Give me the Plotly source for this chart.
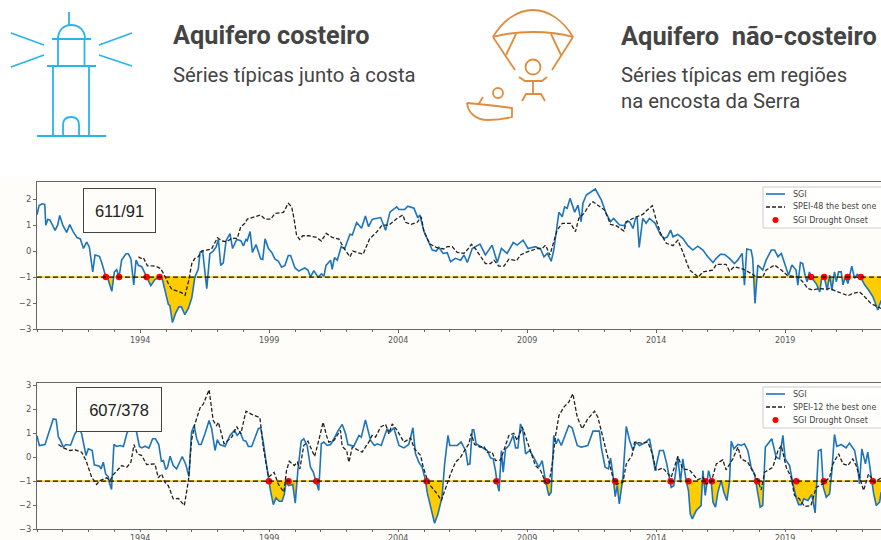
import numpy as np
import plotly.graph_objects as go

W, H = 881, 540
THRESHOLD = -1.0
YEAR_TICKS = [1994, 1999, 2004, 2009, 2014, 2019]

sgi_a_years = [1990,1990.08,1990.2,1990.3,1990.34,1990.42,1990.5,1990.62,1990.7,1990.8,1990.88,1991,1991.15,1991.27,1991.4,1991.55,1991.68,1991.8,1991.93,1992.03,1992.16,1992.25,1992.42,1992.51,1992.67,1992.74,1992.9,1993,1993.09,1993.18,1993.28,1993.45,1993.54,1993.64,1993.75,1993.84,1993.93,1994.06,1994.15,1994.25,1994.41,1994.57,1994.74,1994.85,1994.99,1995.09,1995.15,1995.25,1995.37,1995.5,1995.6,1995.73,1995.87,1996,1996.12,1996.19,1996.25,1996.32,1996.42,1996.58,1996.7,1996.83,1996.94,1997.03,1997.12,1997.22,1997.33,1997.48,1997.58,1997.74,1997.9,1998,1998.1,1998.15,1998.26,1998.35,1998.49,1998.67,1998.75,1998.84,1998.97,1999.1,1999.22,1999.35,1999.48,1999.61,1999.74,1999.83,2000,2000.15,2000.37,2000.5,2000.6,2000.73,2000.89,2001.03,2001.12,2001.2,2001.38,2001.44,2001.53,2001.64,2001.79,2001.92,2002.13,2002.22,2002.39,2002.58,2002.73,2002.85,2003,2003.32,2003.51,2003.68,2003.94,2004.03,2004.25,2004.37,2004.61,2004.76,2004.84,2005,2005.19,2005.32,2005.47,2005.58,2005.74,2005.9,2006.03,2006.22,2006.42,2006.55,2006.68,2006.87,2007.17,2007.38,2007.64,2007.84,2008,2008.22,2008.46,2008.61,2008.84,2009.03,2009.32,2009.52,2009.65,2009.78,2009.93,2010.03,2010.23,2010.36,2010.45,2010.55,2010.66,2010.84,2010.97,2011.09,2011.16,2011.29,2011.64,2011.87,2012.06,2012.23,2012.35,2012.58,2012.77,2012.84,2012.97,2013.1,2013.2,2013.26,2013.34,2013.48,2013.61,2013.74,2013.96,2014.17,2014.32,2014.43,2014.56,2014.65,2014.84,2015.03,2015.23,2015.42,2015.61,2015.81,2016,2016.2,2016.33,2016.49,2016.65,2016.84,2017.03,2017.16,2017.33,2017.42,2017.51,2017.68,2017.74,2017.83,2017.94,2018.13,2018.26,2018.46,2018.59,2018.72,2018.85,2019,2019.13,2019.26,2019.42,2019.49,2019.59,2019.68,2019.77,2019.85,2019.94,2020,2020.2,2020.34,2020.42,2020.51,2020.63,2020.72,2020.81,2020.91,2020.98,2021.07,2021.17,2021.24,2021.33,2021.43,2021.58,2021.69,2021.79,2021.92,2022.08,2022.23,2022.4,2022.59,2022.72]
sgi_a_values = [1.4,1.75,1.82,1.8,1.0,1.22,1.2,0.95,0.8,1.0,1.37,1.0,0.72,1.02,0.75,0.52,0.47,0.1,0.35,0.15,-0.8,-0.15,-0.2,-0.45,-1.0,-1.05,-1.55,-0.8,-0.72,-1.0,-0.35,-0.1,-0.1,-0.3,-1.3,-0.35,-0.55,-0.6,-0.8,-1.0,-1.33,-1.1,-1.0,-1.05,-1.7,-2.05,-2.1,-2.75,-2.4,-2.15,-2.15,-2.45,-2.2,-1.8,-1.0,-0.8,-0.7,-0.05,0.0,-1.45,-0.1,0,0.15,0.45,-0.55,-0.45,0.4,0.67,0.1,0.45,0.4,0.2,0.45,0.4,0.75,-0.05,0.25,-0.3,-0.32,0.47,0.1,-0.05,-0.3,-0.38,-0.62,-0.55,-0.17,-0.17,-0.65,-0.77,-0.65,-0.73,-1.0,-0.75,-1.0,-0.88,-0.97,-0.55,-0.35,-0.7,-0.25,-0.35,0.17,0.08,0.65,0.62,1.1,0.88,1.35,0.94,1.23,1.29,0.8,1.5,1.7,1.6,1.6,1.73,1.65,1.28,1.39,0.75,0.36,0.04,0,0.14,-0.09,-0.06,-0.41,-0.28,-0.35,-0.15,-0.44,0.1,0.27,-0.15,0.23,-0.44,0.1,-0.09,0.33,0.23,0.42,0.1,0.17,0.08,-0.22,-0.09,-0.39,0.04,1.5,1.32,1.7,1.65,2.03,1.5,1.77,1.13,1.84,2.16,2.39,1.97,1.45,1.13,1.26,1.0,0.98,1.13,1.13,0.87,1.26,1.32,0.14,1.26,1.07,1.26,1.07,0.62,0.49,0.55,0.81,0.55,0.64,0.49,0.21,0.04,0.19,0.04,-0.22,-0.44,-0.28,-0.12,-0.13,-0.28,-0.48,-0.35,-0.09,-1.31,0.08,0.04,-0.28,-2.02,-0.54,-0.73,-0.35,0.04,0.04,-0.22,-0.09,-0.54,-0.93,-0.54,-0.73,-1.31,-0.44,-0.48,-0.93,-1.18,-0.8,-1,-1.25,-1.57,-1,-1,-1.5,-0.93,-1.5,-0.8,-1.18,-0.8,-0.8,-1.3,-1,-1.25,-0.58,-1.05,-0.9,-1,-1.3,-1.5,-1.76,-2.27,-1.9]

spei_a_years = [1993.93,1994.02,1994.12,1994.28,1994.5,1994.64,1994.79,1994.9,1995.09,1995.22,1995.41,1995.6,1995.74,1995.87,1996,1996.12,1996.25,1996.38,1996.58,1996.77,1996.84,1997,1997.16,1997.35,1997.55,1997.76,1997.9,1998.06,1998.15,1998.38,1998.67,1998.84,1999.06,1999.22,1999.55,1999.74,1999.87,1999.96,2000.06,2000.18,2000.3,2000.54,2000.83,2001.02,2001.21,2001.44,2001.7,2001.92,2002.13,2002.24,2002.45,2002.64,2002.9,2003.12,2003.38,2003.64,2003.96,2004.18,2004.28,2004.5,2004.74,2004.89,2005,2005.23,2005.51,2005.77,2005.9,2006.09,2006.29,2006.55,2006.67,2006.84,2007,2007.19,2007.38,2007.58,2007.71,2007.9,2008.1,2008.29,2008.59,2008.74,2009,2009.39,2009.58,2009.71,2009.88,2010.03,2010.16,2010.36,2010.68,2010.87,2011,2011.2,2011.46,2011.55,2011.8,2012,2012.23,2012.45,2012.75,2012.84,2013.16,2013.48,2013.61,2013.85,2014,2014.17,2014.39,2014.65,2014.84,2015.03,2015.29,2015.55,2015.64,2015.81,2016.2,2016.33,2016.71,2016.84,2017.03,2017.36,2017.68,2017.88,2018.13,2018.26,2018.59,2018.85,2019.1,2019.49,2019.68,2019.88,2020.07,2020.33,2020.59,2020.72,2021.04,2021.43,2021.62,2021.88,2022.08,2022.33,2022.72]
spei_a_values = [-0.22,-0.28,-0.25,-0.57,-0.57,-0.6,-0.67,-0.86,-1.25,-1.47,-1.53,-1.6,-1.7,-1.18,-0.48,-0.28,-0.22,0,0.04,0.08,0.23,0.51,0.39,0.36,0.49,0.49,0.94,1.07,1.23,1.29,1.39,1.23,1.23,1.45,1.49,1.84,1.71,1.26,0.62,0.45,0.59,0.59,0.53,0.39,0.68,0.53,0.46,0.08,-0.22,0,-0.05,-0.12,0.49,0.68,1.0,1.0,1.26,1.39,1.11,1.03,1.11,1.32,0.75,0.27,0.13,0.08,0.17,0.17,-0.05,-0.09,0.04,0.26,0.08,-0.22,-0.48,-0.48,-0.35,-0.58,-0.58,-0.31,-0.37,-0.15,-0.03,0.1,0.1,0.23,-0.15,0.36,0.81,1.07,1.07,0.75,1.26,1.45,1.84,1.9,1.71,1.58,1.03,0.98,0.77,1.13,1.29,1.41,1.54,1.75,1.2,0.68,0.3,0.21,0.42,-0.03,-0.73,-0.93,-1,-0.8,-0.73,-0.51,-0.51,-0.77,-0.6,-0.69,-0.86,-1,-1.0,-0.73,-0.54,-0.73,-0.95,-1,-1.18,-1.44,-1.5,-1.44,-1.47,-1.44,-1.57,-1.72,-1.63,-1.57,-1.76,-2.02,-2.21]

onset_a_years = [1992.67,1993.18,1994.25,1994.75,2020.0,2020.51,2021.42,2021.93]

sgi_b_years = [1990,1990.09,1990.31,1990.5,1990.63,1990.74,1990.83,1990.89,1991.02,1991.12,1991.3,1991.47,1991.63,1991.73,1991.82,1991.9,1991.99,1992.14,1992.22,1992.42,1992.48,1992.57,1992.66,1992.76,1992.8,1992.89,1992.98,1993.09,1993.22,1993.35,1993.48,1993.6,1993.7,1993.81,1993.97,1994.06,1994.19,1994.34,1994.48,1994.59,1994.72,1994.82,1994.9,1994.99,1995.06,1995.16,1995.28,1995.41,1995.63,1995.76,1995.89,1995.99,1996.09,1996.19,1996.28,1996.36,1996.51,1996.67,1996.77,1996.9,1996.99,1997.09,1997.29,1997.48,1997.65,1997.76,1997.87,1998,1998.1,1998.19,1998.32,1998.45,1998.58,1998.67,1998.77,1998.88,1998.99,1999.06,1999.16,1999.26,1999.39,1999.5,1999.59,1999.65,1999.75,1999.91,2000.01,2000.11,2000.24,2000.34,2000.47,2000.6,2000.71,2000.83,2000.92,2001.02,2001.12,2001.25,2001.38,2001.51,2001.66,2001.83,2001.96,2002.05,2002.28,2002.48,2002.57,2002.73,2002.93,2003.08,2003.19,2003.34,2003.57,2003.68,2003.83,2004.03,2004.22,2004.41,2004.57,2004.67,2004.8,2004.93,2005.06,2005.12,2005.25,2005.41,2005.54,2005.7,2005.8,2005.93,2006,2006.29,2006.44,2006.61,2006.7,2006.78,2006.87,2006.93,2007.02,2007.26,2007.45,2007.58,2007.68,2007.77,2007.84,2007.91,2008,2008.07,2008.16,2008.29,2008.46,2008.55,2008.64,2008.74,2008.83,2008.94,2009.1,2009.32,2009.45,2009.58,2009.71,2009.84,2009.93,2010.03,2010.12,2010.2,2010.32,2010.61,2010.74,2010.94,2011.09,2011.2,2011.35,2011.55,2011.8,2011.87,2012.02,2012.15,2012.23,2012.32,2012.41,2012.49,2012.57,2012.71,2012.84,2012.97,2013.1,2013.22,2013.35,2013.55,2013.74,2013.85,2013.96,2014.13,2014.28,2014.41,2014.52,2014.58,2014.68,2014.84,2014.94,2015.03,2015.16,2015.25,2015.32,2015.4,2015.55,2015.74,2015.81,2015.9,2016.03,2016.13,2016.2,2016.3,2016.39,2016.52,2016.62,2016.74,2016.84,2016.91,2017.01,2017.17,2017.29,2017.42,2017.55,2017.68,2017.81,2017.94,2018.03,2018.13,2018.23,2018.48,2018.65,2018.78,2018.91,2019,2019.17,2019.3,2019.42,2019.52,2019.62,2019.72,2019.88,2020.03,2020.16,2020.29,2020.39,2020.48,2020.59,2020.72,2020.81,2020.91,2021,2021.17,2021.36,2021.49,2021.69,2021.82,2021.88,2021.97,2022.11,2022.2,2022.33,2022.43,2022.53,2022.66,2022.72]
sgi_b_values = [0.9,0.49,0.53,1.12,1.6,1.58,0.84,0.74,0.42,0.53,0.5,0.98,1.23,0.98,0.49,0.07,0.35,0.28,-0.32,-0.38,-0.49,-0.21,-0.7,-0.81,-1.05,-1.35,0.53,0.45,0.49,0.45,0.98,1.3,1.23,1.3,0.45,0.39,0.46,0.38,0.77,0.77,0.53,-0.17,-0.14,-0.52,-0.42,0.04,-0.35,-0.49,0.03,-0.28,-0.81,1.05,1.32,0.77,0.53,0.53,0.98,1.53,1.19,0.28,0.73,0.53,0.45,0.91,1.12,0.91,1.05,0.7,0.67,0.45,0.45,0.84,1.19,1.23,0.63,-0.21,-1,-1.46,-1.98,-1.7,-1.84,-1.84,-1.53,-1.05,-1.19,-1.14,-1.92,-0.56,0.67,0.77,0.49,-0.42,-0.63,-1.05,-1.39,0.56,0.63,0.49,0.53,0.77,1.09,1.37,0.98,0.53,0.46,0.91,0.84,1.56,0.7,0.49,0.56,0.49,1.19,1.05,1.23,0.49,0.39,0.53,1.23,0.14,-0.21,-0.42,-0.98,-1.46,-2.09,-2.76,-2.37,-1.67,-0.28,0.91,0.49,0.49,0.63,0.28,-0.31,-0.28,1.14,1.14,0.56,0.39,0.28,-0.03,-0.07,-0.56,-1.12,-1.42,0.28,-0.63,0.35,0.49,0.91,0.39,0.39,1.39,1.12,0.14,0.28,-0.14,-0.42,-0.14,-1,-1.6,-1.46,0.91,0.56,0.77,0.49,1.32,1.23,0.49,0.42,0.45,0.49,1.09,1.09,0.42,-0.42,-0.49,-0.04,-0.7,-1.65,-1.19,-1.95,-0.84,1.28,0.7,0.28,0.63,0.49,0.59,0.77,0.14,-0.56,0.28,0.28,-0.28,-0.98,-1.26,-1.19,0.03,-1.05,-0.07,-0.98,-1.39,-2.37,-2.58,-2.23,-2.02,-0.56,-1.6,-0.56,-0.98,-1.88,-2.09,-1.46,-0.98,-1.46,-1.81,-1.05,0.67,0.35,0.53,0.49,0.56,0.28,-0.42,-0.7,-1.53,-2.09,-2.02,0.42,0.77,0,-0.07,0.91,-0.07,-0.35,-1.12,-1.67,-1.98,-1.98,-1.74,-1.81,-1.56,-2.33,0.28,0.32,-1.26,-1.67,-1.53,-0.56,0.95,0.45,0.53,0.39,0.59,0.28,-0.49,-1.12,0.35,-0.28,0.21,-0.7,-1.53,-2.02,-1.88,-1.46]

spei_b_years = [1990.83,1991.02,1991.28,1991.47,1991.73,1991.9,1992.12,1992.31,1992.44,1992.7,1992.83,1992.96,1993.28,1993.48,1993.64,1993.76,1993.89,1994.06,1994.25,1994.57,1994.7,1994.83,1994.96,1995.09,1995.28,1995.48,1995.71,1995.87,1995.99,1996.12,1996.32,1996.45,1996.67,1996.83,1996.96,1997.03,1997.25,1997.55,1997.74,1997.9,1998.1,1998.32,1998.64,1998.77,1998.97,1999.19,1999.35,1999.57,1999.67,1999.78,1999.97,2000.09,2000.19,2000.34,2000.5,2000.76,2000.92,2001.09,2001.22,2001.31,2001.51,2001.76,2001.83,2002,2002.09,2002.22,2002.6,2002.86,2002.99,2003.12,2003.32,2003.51,2003.64,2003.77,2003.96,2004.22,2004.48,2004.63,2004.87,2004.97,2005.12,2005.25,2005.51,2005.67,2005.83,2006.03,2006.22,2006.42,2006.61,2006.74,2006.83,2006.96,2007.17,2007.32,2007.45,2007.64,2007.77,2007.97,2008.16,2008.29,2008.48,2008.61,2008.81,2009,2009.13,2009.32,2009.52,2009.71,2009.84,2009.97,2010.1,2010.23,2010.42,2010.61,2010.77,2010.94,2011.13,2011.35,2011.61,2011.74,2011.93,2012.13,2012.32,2012.45,2012.71,2012.84,2013.06,2013.16,2013.42,2013.68,2013.85,2014,2014.26,2014.58,2014.84,2015.03,2015.29,2015.61,2015.81,2015.94,2016.13,2016.33,2016.58,2016.71,2016.97,2017.17,2017.29,2017.55,2017.75,2017.94,2018.07,2018.2,2018.52,2018.72,2018.85,2019.04,2019.23,2019.36,2019.55,2019.75,2020,2020.2,2020.46,2020.72,2020.85,2021.07,2021.24,2021.43,2021.62,2021.75,2022.04,2022.23,2022.46,2022.72]
spei_b_values = [0.53,0.39,0.28,0.31,0.21,-0.14,-0.84,-1.14,-0.98,-0.86,-0.98,-0.73,-0.35,-0.42,-0.21,0.53,0.14,0.07,-0.31,-0.28,-0.86,-0.7,-1.05,-1.19,-1.74,-1.72,-2.02,-0.98,0.7,1.39,2.06,2.23,2.82,1.53,1.32,1.46,0.56,0.84,1.28,0.98,1.92,1.79,1.65,0.42,-0.84,-0.63,-1.12,-1.46,-0.56,-0.17,-0.35,-0.21,-0.49,0.49,0.67,0.03,0.7,1.46,0.91,0.63,0.7,1.12,0.45,0.28,-0.21,0.42,0.21,0.63,0.91,0.84,1.26,1.37,0.98,1.39,1.12,0.63,0.8,0.35,0.07,-0.42,-0.91,-1.19,-1.53,-1.81,-1.32,-0.7,-0.21,0,0.35,0.56,0.98,0.53,0.42,0.45,0.21,0.21,-0.14,-0.11,0.49,0.91,1.0,0.7,1.26,0.63,0.28,-0.35,-0.56,-1.05,-1.12,-0.28,0.91,1.74,2.09,2.3,2.65,1.67,1.19,1.6,1.92,1.67,0.84,0,-0.84,-1.14,-1.05,-0.28,0.07,0.63,0.59,0.63,0.14,-0.56,-0.45,-0.84,0.03,-0.49,-0.53,-0.95,-0.84,-1.12,-1.05,-0.28,-0.11,-0.53,-0.07,0.42,-0.07,-0.21,-0.63,-0.98,-1.37,-0.63,-0.42,0.28,0.49,-0.42,-0.84,-1.6,-1.74,-2.06,-2.02,-1.26,-1.12,-0.84,-0.28,0.14,-0.28,-0.35,-0.07,-0.35,-1.39,-0.7,-1.05,-0.86]

onset_b_years = [1998.99,1999.75,2000.83,2005.1,2007.81,2009.75,2012.41,2014.56,2015.25,2015.91,2016.16,2017.91,2019.43,2020.5,2022.4]

BLUE = "#1c75bc"
GOLD = "#ffcc00"
AXIS = "#666666"
TICK = "#555555"
SKY = "#29b5e8"
ORANGE = "#e18b3d"
BLACK = "#222222"
RED = "#ff0000"


def below(years, vals, thr):
    xs, ys = [], []
    for i in range(len(years)):
        if i:
            a, b = vals[i - 1] - thr, vals[i] - thr
            if a * b < 0:
                xs.append(years[i - 1] + (years[i] - years[i - 1]) * a / (a - b))
                ys.append(thr)
        xs.append(years[i])
        ys.append(min(vals[i], thr))
    return np.array(xs), np.array(ys)


fig = go.Figure()
XEND = 1990 + (W - 37) / 25.8


def panel(sgi_x, sgi_y, spei_x, spei_y, onset_x, spei_name, xa, ya):
    bx, by = below(sgi_x, sgi_y, THRESHOLD)
    fig.add_trace(go.Scatter(x=bx, y=[THRESHOLD] * len(bx), mode="lines", line=dict(width=0),
                             hoverinfo="skip", xaxis=xa, yaxis=ya))
    fig.add_trace(go.Scatter(x=bx, y=by, mode="lines", line=dict(width=0), fill="tonexty",
                             fillcolor=GOLD, hoverinfo="skip", xaxis=xa, yaxis=ya))
    fig.add_trace(go.Scatter(x=[1990, XEND], y=[THRESHOLD, THRESHOLD], mode="lines",
                             line=dict(color=GOLD, width=1.6), xaxis=xa, yaxis=ya))
    fig.add_trace(go.Scatter(x=sgi_x, y=sgi_y, mode="lines", name="SGI",
                             line=dict(color=BLUE, width=1.6), xaxis=xa, yaxis=ya))
    fig.add_trace(go.Scatter(x=onset_x, y=[THRESHOLD] * len(onset_x), mode="markers",
                             name="SGI Drought Onset",
                             marker=dict(color=RED, size=6.5), xaxis=xa, yaxis=ya))
    fig.add_trace(go.Scatter(x=[1990, XEND], y=[THRESHOLD, THRESHOLD], mode="lines",
                             line=dict(color="#111111", width=1.3, dash="5px,3px"),
                             xaxis=xa, yaxis=ya))
    fig.add_trace(go.Scatter(x=spei_x, y=spei_y, mode="lines", name=spei_name,
                             line=dict(color=BLACK, width=1.3, dash="4px,2px"),
                             xaxis=xa, yaxis=ya))


panel(sgi_a_years, sgi_a_values, spei_a_years, spei_a_values, onset_a_years,
      "SPEI-48 the best one", "x", "y")
panel(sgi_b_years, sgi_b_values, spei_b_years, spei_b_values, onset_b_years,
      "SPEI-12 the best one", "x2", "y2")


def xaxis(domain_anchor, ticklen=3):
    return dict(domain=[37 / W, 1], range=[1990, XEND], anchor=domain_anchor, showgrid=False,
                zeroline=False, showline=True, mirror=True, linecolor=AXIS, linewidth=1,
                automargin=False, tickmode="array", tickvals=YEAR_TICKS, ticks="outside", ticklen=ticklen,
                tickcolor=AXIS, tickfont=dict(family="DejaVu Sans", size=8, color=TICK), tickformat="d",
                minor=dict(dtick=1, tick0=1990, ticks="outside", ticklen=2, tickcolor=AXIS))


def yaxis(top, bottom, ymin, ymax, anchor, ticks):
    return dict(domain=[1 - bottom / H, 1 - top / H], range=[ymin, ymax], anchor=anchor,
                showgrid=False, zeroline=False, showline=True, linecolor=AXIS, linewidth=1,
                automargin=False, tickmode="array", tickvals=ticks, ticks="outside", ticklen=3,
                tickcolor=AXIS, tickfont=dict(family="DejaVu Sans", size=8.5, color=TICK))


def P(x, y):
    return f"{x / W:.5f} {1 - y / H:.5f}"


def poly(*pts):
    return "M" + " L".join(P(*p) for p in pts)


def curve(start, *segs):
    s = "M" + P(*start)
    for c1, c2, e in segs:
        s += f" C{P(*c1)} {P(*c2)} {P(*e)}"
    return s


def stroke(path, color, width=1.8, dash=None):
    line = dict(color=color, width=width)
    if dash:
        line["dash"] = dash
    return dict(type="path", xref="paper", yref="paper", path=path, line=line, layer="above")


def circ(cx, cy, r, color, fill=None):
    return dict(type="circle", xref="paper", yref="paper", x0=(cx - r) / W, x1=(cx + r) / W,
                y0=1 - (cy + r) / H, y1=1 - (cy - r) / H, fillcolor=fill or "rgba(0,0,0,0)",
                line=dict(color=color, width=1.8 if not fill else 0), layer="above")


shapes = [dict(type="rect", xref="paper", yref="paper", x0=0, x1=1, y0=0, y1=1 - 178 / H,
               fillcolor="#fffdf9", line=dict(width=0), layer="below")]
lighthouse = [
    poly((69, 12), (69, 25)),
    curve((58, 39), ((58, 30), (64, 25), (71, 25)), ((79, 25), (85, 30), (85, 39))),
    poly((52, 39), (91, 39)), poly((58, 39), (58, 66)), poly((84.5, 39), (84.5, 66)),
    poly((47, 66), (96, 66)), poly((53, 66), (53, 136)), poly((89, 66), (89, 136)),
    curve((63, 136), ((63, 130), (63, 128), (63, 125)), ((63, 120), (66, 117), (71, 117)),
          ((76, 117), (79, 120), (79, 125)), ((79, 128), (79, 130), (79, 136))),
    poly((37, 136), (106, 136)),
    poly((11, 33), (44, 45)), poly((11, 67), (44, 55)),
    poly((132, 33), (99, 45)), poly((132, 66), (99, 55)),
]
parachute = [
    curve((493, 37), ((503, 20), (518, 10), (533, 10)), ((548, 10), (563, 20), (573, 37))),
    curve((493, 37), ((507, 33), (520, 32), (533, 32)), ((546, 32), (559, 33), (573, 37))),
    poly((493, 37), (515, 70)), poly((573, 37), (552, 70)),
    poly((516, 34), (506, 55)), poly((551, 34), (561, 55)),
    poly((519, 77), (525, 81), (542, 81), (547, 77)),
    poly((533, 81), (533, 94)),
    poly((522, 101), (526, 94), (541, 94), (545, 101)),
    curve((467, 103), ((482, 104), (497, 106), (512, 108)), ((512, 111), (512, 114), (512, 117)),
          ((504, 119), (496, 120), (488, 120)), ((476, 120), (468, 113), (467, 103))),
    poly((478, 105), (483, 97)),
]
shapes += [stroke(p, SKY) for p in lighthouse]
shapes += [stroke(p, ORANGE) for p in parachute]
shapes += [circ(533, 67, 7.5, ORANGE), circ(498, 93, 5, ORANGE)]


def text(x, y, s, size, bold=False, color="#444444", family="Roboto"):
    return dict(xref="paper", yref="paper", x=x / W, y=1 - y / H, xanchor="left", yanchor="middle",
                text=f"<b>{s}</b>" if bold else s, showarrow=False,
                font=dict(family=family, size=size, color=color))


def boxed(x0, x1, y0, y1, s, size):
    return dict(xref="paper", yref="paper", x=(x0 + x1) / 2 / W, y=1 - (y0 + y1) / 2 / H,
                xanchor="center", yanchor="middle", width=x1 - x0 - 2, height=y1 - y0 - 2,
                text=s, showarrow=False, bgcolor="#fffdf9", bordercolor="#444444", borderwidth=1,
                font=dict(family="Liberation Sans", size=size, color="#222222"))


annotations = [
    text(171, 35.5, "Aquifero costeiro", 25.3, True),
    text(171, 75, "Séries típicas junto à costa", 20.3),
    text(619, 35.5, "Aquifero&nbsp; não-costeiro", 25.4, True),
    text(619, 75, "Séries típicas em regiões", 20.3),
    text(619, 101, "na encosta da Serra", 20.3),
    boxed(84, 155, 189, 232, "611/91", 16.5),
    boxed(77, 161, 388, 431, "607/378", 16.5),
]


def key(top, spei_name):
    shapes.append(dict(type="rect", xref="paper", yref="paper", x0=763 / W, x1=1.02,
                       y0=1 - (top + 41) / H, y1=1 - top / H, fillcolor="rgba(255,255,255,0.85)",
                       line=dict(color="#cccccc", width=1), layer="above"))
    rows = [top + 7, top + 20, top + 33]
    shapes.append(stroke(poly((766, rows[0]), (785, rows[0])), BLUE, 1.6))
    shapes.append(stroke(poly((766, rows[1]), (785, rows[1])), BLACK, 1.5, "4px,2px"))
    shapes.append(circ(775.5, rows[2], 3, RED, RED))
    for y, s in zip(rows, ["SGI", spei_name, "SGI Drought Onset"]):
        annotations.append(text(791, y, s, 8, color="#444444", family="DejaVu Sans"))


key(187, "SPEI-48 the best one")
key(387, "SPEI-12 the best one")

fig.update_layout(
    width=W, height=H, autosize=False, margin=dict(l=0, r=0, t=0, b=0), paper_bgcolor="white",
    plot_bgcolor="#fffdf9", showlegend=False, shapes=shapes, annotations=annotations,
    xaxis=xaxis("y"), yaxis=yaxis(182, 329, -3, 2.66, "x", [-3, -2, -1, 0, 1, 2]),
    xaxis2=xaxis("y2", 1), yaxis2=yaxis(383, 529, -3, 3.1, "x2", [-3, -2, -1, 0, 1, 2, 3]),
)
fig.write_html("out.html", config=dict(displayModeBar=False),
               post_script=("document.documentElement.style.cssText='margin:0;height:540px;overflow:hidden';"
                            "document.body.style.cssText='margin:0;height:540px;overflow:hidden';"
                            "document.querySelectorAll('.plotly-graph-div,.svg-container').forEach(function(e){e.style.display='block';});"))
